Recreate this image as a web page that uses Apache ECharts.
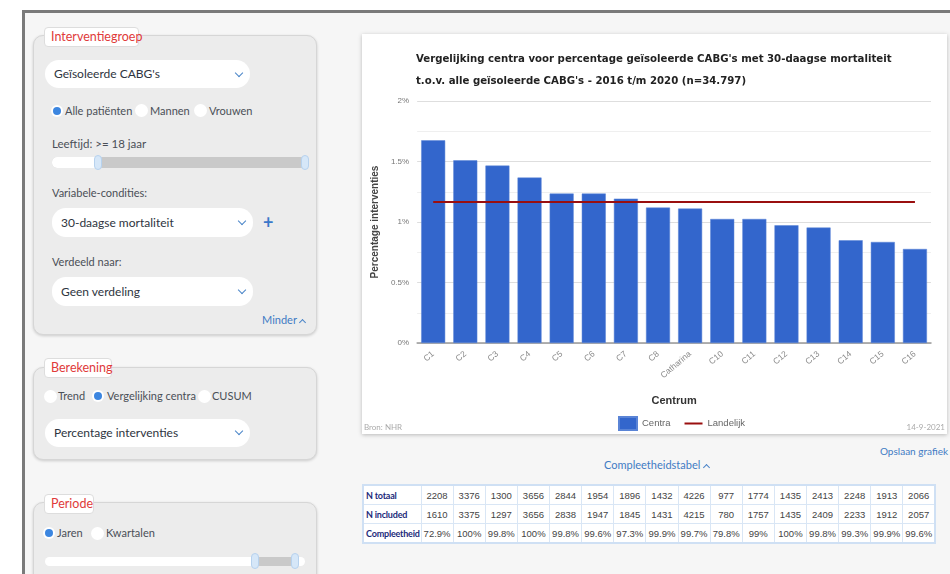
<!DOCTYPE html>
<html>
<head>
<meta charset="utf-8">
<script src="https://cdn.jsdelivr.net/npm/echarts@6/dist/echarts.min.js"></script>
<style>
  html, body { margin:0; padding:0; width:950px; height:574px; overflow:hidden; background:#fff; font-family: Lato, "Open Sans", sans-serif; }
  .frame { position:absolute; left:22px; top:10px; width:928px; height:564px; border-left:3px solid #7a7a7a; border-top:3px solid #7a7a7a; background:#f6f6f6; box-sizing:border-box; }
  .abs { position:absolute; }
  .box { position:absolute; background:#ececec; border:1px solid #d6d6d6; border-radius:10px; box-shadow:0 1px 3px rgba(0,0,0,0.18); box-sizing:border-box; }
  .tab { position:absolute; background:#fff; border:1px solid #ddd; border-radius:4px; color:#e03a3a; font-size:12.5px; line-height:18px; padding:0 6px; box-sizing:border-box; white-space:nowrap; }
  .dd { position:absolute; background:#fff; border-radius:14px; box-sizing:border-box; color:#2e3440; font-size:12px; padding-left:9px; white-space:nowrap; }
  .chev { position:absolute; width:5px; height:5px; border-right:1.5px solid #4a85c8; border-bottom:1.5px solid #4a85c8; transform:rotate(45deg); }
  .chevup { position:absolute; width:4px; height:4px; border-left:1.5px solid #4a85c8; border-top:1.5px solid #4a85c8; transform:rotate(45deg); }
  .txt { position:absolute; font-size:11px; color:#4a4f57; white-space:nowrap; line-height:14px; }
  .rad { position:absolute; width:13px; height:13px; border-radius:50%; background:#fff; }
  .dot { position:absolute; width:8px; height:8px; border-radius:50%; background:#3c86e0; box-shadow:0 0 0 2px #fff; }
  .handle { position:absolute; width:8px; height:15px; border-radius:5px; background:#d6e7f8; border:1px solid #b7d2ee; box-sizing:border-box; }
  .card { position:absolute; left:362px; top:34px; width:585px; height:400px; background:#fff; box-shadow:0 1px 4px rgba(0,0,0,0.25); }
  .link { position:absolute; color:#3f7bc4; font-size:11px; white-space:nowrap; }
  table.ct { position:absolute; left:362px; top:484px; width:574px; table-layout:fixed; border-collapse:collapse; background:#fff; border:2px solid #cfe0f4; font-family:"Liberation Sans",sans-serif; font-size:9.5px; color:#444; }
  table.ct td { border:1px solid #d9e6f5; height:18px; padding:0; text-align:center; overflow:hidden; white-space:nowrap; }
  table.ct td.h { text-align:left; padding-left:2px; color:#1c2a7a; font-weight:bold; font-family: Lato, sans-serif; font-size:9px; letter-spacing:-0.2px; }
</style>
</head>
<body>
<div class="frame"></div>

<!-- Interventiegroep -->
<div class="box" style="left:33px;top:35px;width:284px;height:300px;"></div>
<div class="tab" style="left:44px;top:27px;width:95px;height:20px;">Interventiegroep</div>
<div class="dd" style="left:45px;top:60px;width:205px;height:28px;line-height:28px;">Geïsoleerde CABG's</div>
<div class="chev" style="left:236px;top:70px;"></div>
<div class="dot" style="left:53px;top:107px;"></div>
<div class="txt" style="left:65px;top:104px;">Alle patiënten</div>
<div class="rad" style="left:135px;top:104px;"></div>
<div class="txt" style="left:150px;top:104px;">Mannen</div>
<div class="rad" style="left:194px;top:104px;"></div>
<div class="txt" style="left:209px;top:104px;">Vrouwen</div>
<div class="txt" style="left:52px;top:137px;font-size:11.5px;">Leeftijd: &gt;= 18 jaar</div>
<div class="abs" style="left:52px;top:157px;width:257px;height:11px;border-radius:5px;background:#c9c9c9;"></div>
<div class="abs" style="left:52px;top:157px;width:47px;height:11px;border-radius:5px 0 0 5px;background:#fff;"></div>
<div class="handle" style="left:94px;top:155px;"></div>
<div class="handle" style="left:301px;top:155px;"></div>
<div class="txt" style="left:52px;top:186px;">Variabele-condities:</div>
<div class="dd" style="left:52px;top:208px;width:201px;height:29px;line-height:29px;">30-daagse mortaliteit</div>
<div class="chev" style="left:239px;top:218px;"></div>
<div class="abs" style="left:263px;top:212px;color:#3a78c9;font-size:18px;font-weight:bold;line-height:20px;">+</div>
<div class="txt" style="left:52px;top:255px;">Verdeeld naar:</div>
<div class="dd" style="left:52px;top:277px;width:201px;height:29px;line-height:29px;">Geen verdeling</div>
<div class="chev" style="left:239px;top:287px;"></div>
<div class="link" style="left:262px;top:313px;">Minder</div>
<div class="chevup" style="left:300px;top:320px;"></div>

<!-- Berekening -->
<div class="box" style="left:33px;top:367px;width:284px;height:93px;"></div>
<div class="tab" style="left:44px;top:358px;width:68px;height:20px;">Berekening</div>
<div class="rad" style="left:44px;top:390px;"></div>
<div class="txt" style="left:58px;top:389px;">Trend</div>
<div class="dot" style="left:94px;top:392px;"></div>
<div class="txt" style="left:107px;top:389px;">Vergelijking centra</div>
<div class="rad" style="left:198px;top:390px;"></div>
<div class="txt" style="left:212px;top:389px;">CUSUM</div>
<div class="dd" style="left:45px;top:419px;width:205px;height:28px;line-height:28px;">Percentage interventies</div>
<div class="chev" style="left:236px;top:428px;"></div>

<!-- Periode -->
<div class="box" style="left:33px;top:502px;width:284px;height:100px;"></div>
<div class="tab" style="left:44px;top:494px;width:50px;height:20px;">Periode</div>
<div class="dot" style="left:45px;top:529px;"></div>
<div class="txt" style="left:57px;top:526px;">Jaren</div>
<div class="rad" style="left:91px;top:527px;"></div>
<div class="txt" style="left:106px;top:526px;">Kwartalen</div>
<div class="abs" style="left:45px;top:557px;width:260px;height:9px;border-radius:5px;background:#fff;"></div>
<div class="abs" style="left:255px;top:557px;width:40px;height:9px;background:#c9c9c9;"></div>
<div class="handle" style="left:251px;top:553px;height:16px;"></div>
<div class="handle" style="left:291px;top:553px;height:16px;"></div>

<!-- Chart -->
<div class="card"><div id="chart" style="width:585px;height:400px;"></div></div>

<div class="link" style="right:2px;top:445px;font-size:10px;">Opslaan grafiek</div>
<div class="link" style="left:604px;top:458px;">Compleetheidstabel</div>
<div class="chevup" style="left:704px;top:465px;"></div>

<table class="ct" id="tbl"></table>

<script>
// ---- data ----
const categories = ["C1","C2","C3","C4","C5","C6","C7","C8","Catharina","C10","C11","C12","C13","C14","C15","C16"];
const centraValues = [1.675, 1.51, 1.466, 1.367, 1.235, 1.235, 1.193, 1.119, 1.111, 1.025, 1.025, 0.973, 0.954, 0.849, 0.835, 0.777];
const landelijkValues = [1.165, 1.165, 1.165, 1.165, 1.165, 1.165, 1.165, 1.165, 1.165, 1.165, 1.165, 1.165, 1.165, 1.165, 1.165, 1.165];
const yTicks = [0, 0.5, 1, 1.5, 2];
const nTotaal = [2208, 3376, 1300, 3656, 2844, 1954, 1896, 1432, 4226, 977, 1774, 1435, 2413, 2248, 1913, 2066];
const nIncluded = [1610, 3375, 1297, 3656, 2838, 1947, 1845, 1431, 4215, 780, 1757, 1435, 2409, 2233, 1912, 2057];
const compleetheid = ["72.9%","100%","99.8%","100%","99.8%","99.6%","97.3%","99.9%","99.7%","79.8%","99%","100%","99.8%","99.3%","99.9%","99.6%"];

// ---- table ----
const rows = [["N totaal", nTotaal], ["N included", nIncluded], ["Compleetheid", compleetheid]];
const colgroup = '<colgroup><col style="width:58px">' + nTotaal.map(() => '<col>').join('') + '</colgroup>';
document.getElementById('tbl').innerHTML = colgroup + rows.map(r =>
  '<tr><td class="h">' + r[0] + '</td>' + r[1].map(v => '<td>' + v + '</td>').join('') + '</tr>').join('');

// ---- chart ----
const chart = echarts.init(document.getElementById('chart'), null, {renderer:'canvas'});
const narrow = '"DejaVu Sans Condensed","Liberation Sans Narrow",sans-serif';
chart.setOption({
  animation: false,
  textStyle: { fontFamily: '"Liberation Sans",Arial,sans-serif' },
  title: {
    text: "Vergelijking centra voor percentage geïsoleerde CABG's met 30-daagse mortaliteit\nt.o.v. alle geïsoleerde CABG's - 2016 t/m 2020 (n=34.797)",
    left: 49, top: 9,
    textStyle: { fontFamily: narrow, fontSize: 11.3, fontWeight: 'bold', color: '#222', lineHeight: 22 }
  },
  grid: { left: 54, right: 16, top: 67, bottom: 91 },
  legend: {
    left: 251, top: 377, itemWidth: 18, itemHeight: 13, itemGap: 14,
    textStyle: { fontSize: 9.5, color: '#666' },
    data: [{ name: 'Centra', icon: 'rect' }, { name: 'Landelijk', icon: 'path://M0,0L18,0L18,2L0,2Z' }]
  },
  xAxis: {
    type: 'category', data: categories,
    name: 'Centrum', nameLocation: 'middle', nameGap: 52,
    nameTextStyle: { fontWeight: 'bold', fontSize: 11, color: '#333' },
    axisTick: { show: false },
    axisLine: { lineStyle: { color: '#999', width: 1.5 } },
    axisLabel: { rotate: 40, fontSize: 8.5, color: '#888', margin: 10, interval: 0 }
  },
  yAxis: {
    type: 'value', min: 0, max: 2, interval: 0.25,
    name: 'Percentage interventies', nameLocation: 'middle', nameGap: 35,
    nameTextStyle: { fontWeight: 'bold', fontSize: 10, color: '#444' },
    axisLine: { show: false }, axisTick: { show: false },
    axisLabel: { fontSize: 8, color: '#777', margin: 8,
      formatter: v => yTicks.some(t => Math.abs(t - v) < 1e-9) ? (Math.round(v * 100) / 100) + '%' : '' },
    splitLine: { lineStyle: { color: ['#dedede', '#efefef'], width: 1 } }
  },
  series: [
    { name: 'Centra', type: 'bar', data: centraValues, barWidth: 24,
      itemStyle: { color: '#3366cc', borderColor: '#5a84d6', borderWidth: 0.5 } },
    { name: 'Landelijk', type: 'line', data: landelijkValues, symbol: 'none', z: 5,
      lineStyle: { color: '#9a0f0f', width: 2 }, itemStyle: { color: '#9a0f0f' } }
  ],
  graphic: [
    { type: 'text', left: 2, top: 389, style: { text: 'Bron: NHR', fontSize: 8, fill: '#aaa', fontFamily: 'Lato,sans-serif' } },
    { type: 'text', right: 2, top: 389, style: { text: '14-9-2021', fontSize: 8, fill: '#aaa', fontFamily: 'Lato,sans-serif' } }
  ]
});
</script>
</body>
</html>
